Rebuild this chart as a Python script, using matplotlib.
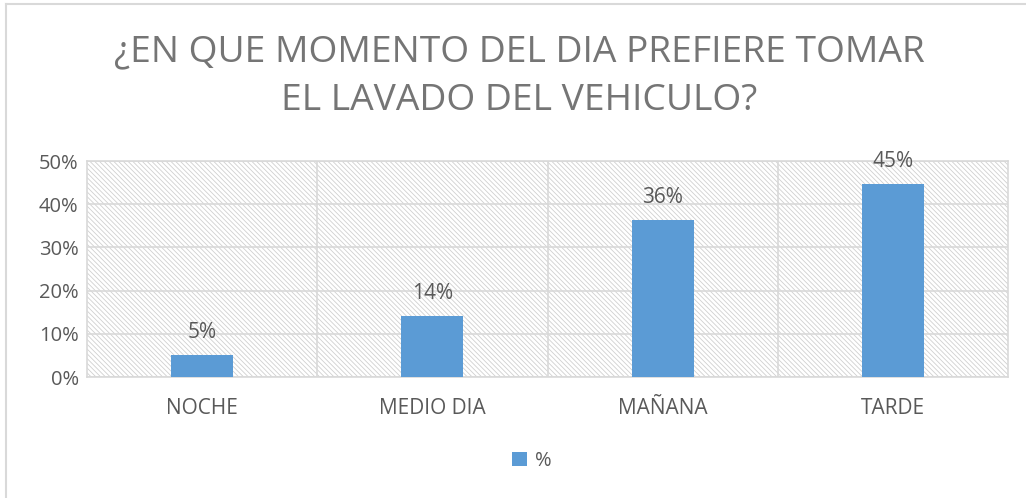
import matplotlib.pyplot as plt
from matplotlib.patches import Rectangle
from matplotlib.ticker import PercentFormatter, MultipleLocator

# data
categories = ['NOCHE', 'MEDIO DIA', 'MAÑANA', 'TARDE']
percent = [5.1, 14.1, 36.3, 44.7]
series_name = '%'

plt.rcParams['font.family'] = ['Open Sans', 'DejaVu Sans']
plt.rcParams['hatch.linewidth'] = 0.6
plt.rcParams['hatch.color'] = '#D0D0D0'

bar_color = '#5B9BD5'
text_color = '#595959'
grid_color = '#D9D9D9'

fig = plt.figure(figsize=(10.26, 4.98), dpi=100)
ax = fig.add_axes([87 / 1026, (498 - 377) / 498, (1008 - 87) / 1026, 216 / 498])

# hatched background of the plot area
bg = Rectangle((0, 0), 1, 1, transform=ax.transAxes, facecolor='white',
               edgecolor='#D0D0D0', hatch='\\' * 7, linewidth=0, zorder=0)
ax.add_patch(bg)

x = range(len(categories))
bars = ax.bar(x, percent, width=0.27, color=bar_color, zorder=3, label=series_name)

for b, v in zip(bars, percent):
    ax.text(b.get_x() + b.get_width() / 2, v + 2.8, f'{round(v)}%',
            ha='center', va='bottom', fontsize=15, color=text_color, zorder=4)

ax.set_xlim(-0.5, len(categories) - 0.5)
ax.set_ylim(0, 50)
ax.yaxis.set_major_locator(MultipleLocator(10))
ax.yaxis.set_major_formatter(PercentFormatter(decimals=0))
ax.set_xticks(list(x))
ax.set_xticklabels(categories)

ax.grid(axis='y', color=grid_color, linewidth=1.2, zorder=1)
for bnd in [0.5, 1.5, 2.5]:
    ax.axvline(bnd, color=grid_color, linewidth=1.2, zorder=1)
for s in ax.spines.values():
    s.set_color(grid_color)
    s.set_linewidth(1.2)

ax.tick_params(length=0, labelsize=14.5, colors=text_color)
ax.tick_params(axis='x', labelsize=15, pad=15)
ax.tick_params(axis='y', pad=6)

fig.text(0.506, 0.846, '¿EN QUE MOMENTO DEL DIA PREFIERE TOMAR\nEL LAVADO DEL VEHICULO?',
         ha='center', va='center', fontsize=26.8, color='#757575', linespacing=1.45)

leg = fig.legend(handles=[bars], labels=[series_name], loc='center',
                 bbox_to_anchor=(0.518, (498 - 461) / 498), frameon=False,
                 fontsize=14.5, handlelength=0.75, handleheight=0.75, handletextpad=0.4)
for t in leg.get_texts():
    t.set_color(text_color)

# outer chart border (only top and left visible in the reference)
fig.add_artist(plt.Line2D([6 / 1026, 6 / 1026], [0, 1 - 4 / 498], transform=fig.transFigure,
                          color='#D9D9D9', linewidth=1.5))
fig.add_artist(plt.Line2D([6 / 1026, 1], [1 - 4 / 498, 1 - 4 / 498], transform=fig.transFigure,
                          color='#D9D9D9', linewidth=1.5))

fig.savefig('out.png', dpi=100)
